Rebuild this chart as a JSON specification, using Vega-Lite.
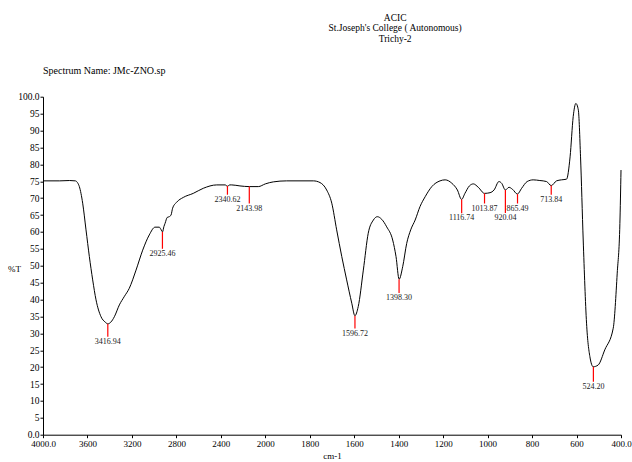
{
  "$schema": "https://vega.github.io/schema/vega-lite/v6.json",
  "width": 578,
  "height": 338,
  "autosize": {"type": "none"},
  "padding": {"left": 43, "top": 96.7, "right": 11, "bottom": 27.3},
  "background": "white",
  "config": {
    "view": {"stroke": null},
    "font": "Liberation Serif",
    "axis": {"labelFont": "Liberation Serif", "titleFont": "Liberation Serif", "labelColor": "black", "titleColor": "black", "domainColor": "black", "tickColor": "black", "grid": false, "titleFontWeight": "normal"}
  },
  "datasets": {
    "spectrum": [
      {"wn": 4000, "T": 75.1}, {"wn": 3850, "T": 75.1}, {"wn": 3760, "T": 75.2}, {"wn": 3709, "T": 75.1},
      {"wn": 3690, "T": 74.6}, {"wn": 3673, "T": 73.4}, {"wn": 3643, "T": 68.5}, {"wn": 3613, "T": 60.6},
      {"wn": 3583, "T": 52.7}, {"wn": 3553, "T": 45.8}, {"wn": 3523, "T": 39.9}, {"wn": 3478, "T": 34.9},
      {"wn": 3440, "T": 33.3}, {"wn": 3417, "T": 32.8}, {"wn": 3390, "T": 33.3}, {"wn": 3358, "T": 34.9},
      {"wn": 3313, "T": 38.4}, {"wn": 3270, "T": 40.8}, {"wn": 3224, "T": 43.3}, {"wn": 3163, "T": 48.7},
      {"wn": 3103, "T": 54.6}, {"wn": 3044, "T": 59.1}, {"wn": 2992, "T": 61.4}, {"wn": 2954, "T": 61.4},
      {"wn": 2940, "T": 60.8}, {"wn": 2925, "T": 60.0}, {"wn": 2912, "T": 61.6}, {"wn": 2902, "T": 62.5},
      {"wn": 2882, "T": 64.3}, {"wn": 2864, "T": 64.5}, {"wn": 2848, "T": 65.0}, {"wn": 2834, "T": 67.0},
      {"wn": 2797, "T": 68.8}, {"wn": 2738, "T": 70.2}, {"wn": 2648, "T": 71.4}, {"wn": 2558, "T": 72.9},
      {"wn": 2437, "T": 73.9}, {"wn": 2360, "T": 73.9}, {"wn": 2341, "T": 73.5}, {"wn": 2320, "T": 73.9},
      {"wn": 2302, "T": 73.9}, {"wn": 2228, "T": 73.6}, {"wn": 2144, "T": 73.4}, {"wn": 2063, "T": 73.4},
      {"wn": 2000, "T": 74.2}, {"wn": 1964, "T": 74.8}, {"wn": 1904, "T": 75.1}, {"wn": 1784, "T": 75.1},
      {"wn": 1754, "T": 74.6}, {"wn": 1724, "T": 72.4}, {"wn": 1701, "T": 68.5}, {"wn": 1679, "T": 60.6},
      {"wn": 1656, "T": 52.7}, {"wn": 1634, "T": 45.8}, {"wn": 1611, "T": 38.9}, {"wn": 1597, "T": 35.2},
      {"wn": 1582, "T": 37.9}, {"wn": 1559, "T": 48.7}, {"wn": 1537, "T": 59.6}, {"wn": 1514, "T": 63.5},
      {"wn": 1496, "T": 64.5}, {"wn": 1476, "T": 63.7}, {"wn": 1454, "T": 61.5}, {"wn": 1427, "T": 57.6},
      {"wn": 1412, "T": 52.7}, {"wn": 1398, "T": 46.0}, {"wn": 1382, "T": 49.7}, {"wn": 1364, "T": 56.6},
      {"wn": 1346, "T": 60.6}, {"wn": 1326, "T": 63.5}, {"wn": 1304, "T": 67.5}, {"wn": 1281, "T": 70.4},
      {"wn": 1251, "T": 73.4}, {"wn": 1214, "T": 75.1}, {"wn": 1191, "T": 75.4}, {"wn": 1161, "T": 74.4},
      {"wn": 1136, "T": 72.4}, {"wn": 1117, "T": 69.6}, {"wn": 1102, "T": 71.4}, {"wn": 1082, "T": 73.6},
      {"wn": 1064, "T": 74.2}, {"wn": 1042, "T": 73.2}, {"wn": 1014, "T": 71.4}, {"wn": 989, "T": 71.6},
      {"wn": 971, "T": 72.4}, {"wn": 949, "T": 74.9}, {"wn": 937, "T": 74.4}, {"wn": 920, "T": 72.4},
      {"wn": 904, "T": 73.2}, {"wn": 888, "T": 72.6}, {"wn": 866, "T": 71.2}, {"wn": 847, "T": 72.9},
      {"wn": 822, "T": 74.9}, {"wn": 795, "T": 75.4}, {"wn": 765, "T": 75.2}, {"wn": 735, "T": 74.9},
      {"wn": 714, "T": 73.7}, {"wn": 690, "T": 75.1}, {"wn": 668, "T": 75.4}, {"wn": 645, "T": 75.6},
      {"wn": 629, "T": 82.2}, {"wn": 615, "T": 94.1}, {"wn": 603, "T": 98.0}, {"wn": 592, "T": 96.1},
      {"wn": 582, "T": 82.2}, {"wn": 570, "T": 57.6}, {"wn": 555, "T": 33.0}, {"wn": 540, "T": 23.1},
      {"wn": 525, "T": 20.1}, {"wn": 503, "T": 20.6}, {"wn": 473, "T": 25.1}, {"wn": 435, "T": 31.5},
      {"wn": 417, "T": 47.8}, {"wn": 405, "T": 62.5}, {"wn": 400, "T": 78.3}
    ],
    "peaks": [
      {"wn": 3416.94, "T": 32.8, "Tend": 29.0, "label": "3416.94"},
      {"wn": 2925.46, "T": 60.0, "Tend": 55.0, "label": "2925.46"},
      {"wn": 2340.62, "T": 73.6, "Tend": 71.0, "label": "2340.62"},
      {"wn": 2143.98, "T": 73.4, "Tend": 68.4, "label": "2143.98"},
      {"wn": 1596.72, "T": 35.2, "Tend": 31.4, "label": "1596.72"},
      {"wn": 1398.30, "T": 46.0, "Tend": 41.9, "label": "1398.30"},
      {"wn": 1116.74, "T": 69.6, "Tend": 65.5, "label": "1116.74"},
      {"wn": 1013.87, "T": 71.4, "Tend": 68.4, "label": "1013.87"},
      {"wn": 920.04, "T": 72.4, "Tend": 65.6, "label": "920.04"},
      {"wn": 865.49, "T": 71.2, "Tend": 68.4, "label": "865.49"},
      {"wn": 713.84, "T": 73.7, "Tend": 71.0, "label": "713.84"},
      {"wn": 524.20, "T": 20.1, "Tend": 15.7, "label": "524.20"}
    ],
    "header": [
      {"wn": 4000, "T": 107.6, "text": "Spectrum Name: JMc-ZNO.sp"}
    ],
    "titlelines": [
      {"wn": 1416, "T": 123.3, "text": "ACIC"},
      {"wn": 1416, "T": 120.2, "text": "St.Joseph's College ( Autonomous)"},
      {"wn": 1416, "T": 117.1, "text": "Trichy-2"}
    ]
  },
  "encoding": {
    "x": {
      "field": "wn", "type": "quantitative",
      "scale": {"type": "linear", "domain": [4000, 2000, 400], "range": [0, 222.3, 578], "zero": false, "nice": false},
      "axis": {
        "title": "cm-1", "titleFontSize": 9, "titlePadding": 3,
        "values": [4000, 3600, 3200, 2800, 2400, 2000, 1800, 1600, 1400, 1200, 1000, 800, 600, 400],
        "labelExpr": "datum.value == 4000 || datum.value == 400 ? format(datum.value, '.1f') : format(datum.value, 'd')",
        "labelFontSize": 9, "tickSize": 3, "labelPadding": 2, "domainWidth": 1, "labelFlush": false, "labelOverlap": false
      }
    },
    "y": {
      "field": "T", "type": "quantitative",
      "scale": {"domain": [0, 100], "zero": false, "nice": false},
      "axis": {
        "title": "%T", "titleAngle": 0, "titleFontSize": 9, "titleX": -29, "titleY": 172, "titleAlign": "center", "titleBaseline": "middle",
        "values": [0, 5, 10, 15, 20, 25, 30, 35, 40, 45, 50, 55, 60, 65, 70, 75, 80, 85, 90, 95, 100],
        "labelExpr": "datum.value == 0 || datum.value == 100 ? format(datum.value, '.1f') : format(datum.value, 'd')",
        "labelFontSize": 9.5, "tickSize": 3, "labelPadding": 1, "domainWidth": 1, "labelFlush": false, "labelOverlap": false
      }
    }
  },
  "layer": [
    {
      "data": {"name": "spectrum"},
      "mark": {"type": "line", "color": "black", "strokeWidth": 1, "interpolate": "monotone", "clip": false}
    },
    {
      "data": {"name": "peaks"},
      "mark": {"type": "rule", "color": "#ff0000", "strokeWidth": 1.2},
      "encoding": {
        "y2": {"field": "Tend"}
      }
    },
    {
      "data": {"name": "peaks"},
      "mark": {"type": "text", "font": "Liberation Serif", "fontSize": 8, "color": "#222222", "baseline": "top", "dy": 1},
      "encoding": {
        "y": {
          "field": "Tend", "type": "quantitative",
          "scale": {"domain": [0, 100], "zero": false, "nice": false},
          "axis": {
            "title": "%T", "titleAngle": 0, "titleFontSize": 9, "titleX": -29, "titleY": 172, "titleAlign": "center", "titleBaseline": "middle",
            "values": [0, 5, 10, 15, 20, 25, 30, 35, 40, 45, 50, 55, 60, 65, 70, 75, 80, 85, 90, 95, 100],
            "labelExpr": "datum.value == 0 || datum.value == 100 ? format(datum.value, '.1f') : format(datum.value, 'd')",
            "labelFontSize": 9.5, "tickSize": 3, "labelPadding": 1, "domainWidth": 1, "labelFlush": false, "labelOverlap": false
          }
        },
        "text": {"field": "label"}
      }
    },
    {
      "data": {"name": "header"},
      "mark": {"type": "text", "font": "Liberation Serif", "fontSize": 10, "color": "black", "align": "left", "baseline": "middle", "clip": false},
      "encoding": {
        "text": {"field": "text"}
      }
    },
    {
      "data": {"name": "titlelines"},
      "mark": {"type": "text", "font": "Liberation Serif", "fontSize": 9.5, "color": "black", "align": "center", "baseline": "middle", "clip": false},
      "encoding": {
        "text": {"field": "text"}
      }
    }
  ]
}
